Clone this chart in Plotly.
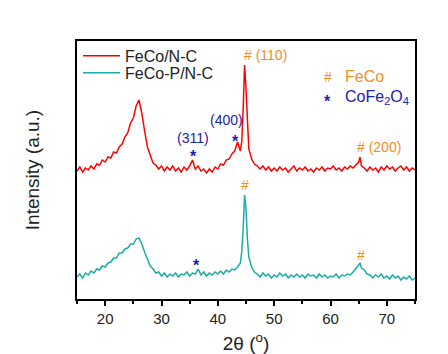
import plotly.graph_objects as go

# 2theta sampling (degrees)
two_theta = [15.0, 15.5, 16.0, 16.5, 17.0, 17.5, 18.0, 18.5, 19.0, 19.5,
             20.0, 20.5, 21.0, 21.5, 22.0, 22.5, 23.0, 23.5, 24.0, 24.5,
             25.0, 25.5, 26.0, 26.5, 27.0, 27.5, 28.0, 28.5, 29.0, 29.5,
             30.0, 30.5, 31.0, 31.5, 32.0, 32.5, 33.0, 33.5, 34.0, 34.5,
             35.0, 35.5, 36.0, 36.5, 37.0, 37.5, 38.0, 38.5, 39.0, 39.5,
             40.0, 40.5, 41.0, 41.5, 42.0, 42.5, 43.0, 43.5, 44.0, 44.25,
             44.5, 44.75, 45.0, 45.25, 45.5, 46.0, 46.5, 47.0, 47.5, 48.0,
             48.5, 49.0, 49.5, 50.0, 50.5, 51.0, 51.5, 52.0, 52.5, 53.0,
             53.5, 54.0, 54.5, 55.0, 55.5, 56.0, 56.5, 57.0, 57.5, 58.0,
             58.5, 59.0, 59.5, 60.0, 60.5, 61.0, 61.5, 62.0, 62.5, 63.0,
             63.5, 64.0, 64.5, 65.0, 65.25, 65.5, 66.0, 66.5, 67.0, 67.5,
             68.0, 68.5, 69.0, 69.5, 70.0, 70.5, 71.0, 71.5, 72.0, 72.5,
             73.0, 73.5, 74.0, 74.5, 75.0]

feco_nc = [128, 132, 127, 131, 129, 133, 130, 135, 134, 139,
           137, 142, 141, 147, 146, 152, 155, 162, 166, 176,
           181, 193, 199, 186, 168, 152, 144, 136, 134, 130,
           133, 128, 132, 129, 133, 128, 131, 127, 132, 129,
           133, 139, 130, 133, 128, 130, 126, 130, 127, 132,
           130, 135, 134, 139, 140, 145, 148, 157, 148, 158,
           190, 234, 210, 170, 150, 140, 135, 133, 130, 133,
           129, 132, 128, 131, 128, 132, 129, 131, 127, 130,
           133, 128, 131, 129, 132, 128, 130, 127, 131, 129,
           132, 128, 131, 130, 133, 129, 131, 128, 132, 130,
           133, 131, 134, 137, 142, 133, 131, 128, 132, 129,
           131, 127, 132, 129, 133, 130, 132, 128, 131, 133,
           129, 132, 128, 131, 129]

feco_p_nc = [22, 25, 21, 26, 24, 28, 26, 30, 29, 33,
             32, 36, 37, 41, 41, 46, 46, 50, 51, 55,
             55, 60, 61, 55, 47, 39, 33, 30, 26, 27,
             23, 26, 22, 25, 23, 26, 22, 25, 24, 27,
             23, 26, 25, 30, 24, 27, 23, 26, 24, 27,
             25, 28, 25, 29, 27, 30, 29, 32, 36, 48,
             70, 104, 90, 60, 42, 32, 27, 25, 22, 26,
             23, 25, 21, 24, 22, 26, 23, 25, 21, 24,
             22, 25, 22, 24, 21, 25, 23, 24, 21, 25,
             22, 24, 21, 23, 22, 25, 21, 24, 23, 25,
             24, 27, 30, 34, 36, 31, 29, 25, 24, 21,
             24, 22, 25, 21, 23, 20, 24, 21, 23, 19,
             22, 20, 23, 19, 21]

series_names = ["FeCo/N-C", "FeCo-P/N-C"]
series_colors = ["#FF0000", "#1AADA6"]
series_legends = ["legend", "legend2"]

FONT = "Arial, Liberation Sans, sans-serif"
TXT = "#222222"
ORANGE = "#F0901E"
BLUE = "#2020B0"
STAR = "<b>*</b>"

fig = go.Figure()
for name, ys, col, lg in zip(series_names, [feco_nc, feco_p_nc], series_colors, series_legends):
    fig.add_trace(go.Scatter(x=two_theta, y=ys, mode="lines", name=name, legend=lg,
                             line=dict(color=col, width=1.5)))

# peak labels: (text, x, y, color, size, anchor, yshift)
labels = [
    ("# (110)", 44.3, 244, ORANGE, 14, "left", 0),
    ("(400)", 41.6, 179, BLUE, 14, "center", 0),
    (STAR, 43.2, 162, BLUE, 16, "center", -4),
    ("(311)", 35.6, 161, BLUE, 14, "center", 0),
    (STAR, 35.6, 147, BLUE, 16, "center", -4),
    ("# (200)", 64.3, 152, ORANGE, 14, "left", 0),
    ("#", 44.8, 114, ORANGE, 14, "center", 0),
    (STAR, 36.3, 38, BLUE, 16, "center", -4),
    ("#", 65.4, 44, ORANGE, 14, "center", 0),
    ("#", 59.5, 222, ORANGE, 14, "center", 0),
    ("FeCo", 62.2, 223, ORANGE, 16, "left", 0),
    (STAR, 59.5, 202, BLUE, 16, "center", -4),
    ("CoFe<sub>2</sub>O<sub>4</sub>", 62.2, 202, BLUE, 16, "left", 0),
]
for t, x, y, c, s, anc, ys in labels:
    fig.add_annotation(x=x, y=y, text=t, showarrow=False, xanchor=anc,
                       yanchor="middle", yshift=ys,
                       font=dict(family=FONT, size=s, color=c))

leg_common = dict(xanchor="left", yanchor="top", bgcolor="rgba(0,0,0,0)",
                  font=dict(size=16, family=FONT, color=TXT), itemwidth=37)
fig.update_layout(
    width=448, height=354,
    margin=dict(l=77, r=33, t=41, b=55),
    paper_bgcolor="white", plot_bgcolor="white",
    font=dict(family=FONT, color=TXT),
    legend=dict(x=0.003, y=1.008, **leg_common),
    legend2=dict(x=0.003, y=0.942, **leg_common),
    showlegend=True,
)
fig.update_xaxes(range=[15, 75], tick0=0, dtick=10, ticks="outside", ticklen=5,
                 tickwidth=1.5, tickcolor="black", automargin=False,
                 minor=dict(dtick=5, ticks="outside", ticklen=3, tickwidth=1.5, tickcolor="black"),
                 showline=True, linecolor="black", linewidth=1.5, mirror=True,
                 showgrid=False, zeroline=False,
                 tickfont=dict(size=15, family=FONT, color=TXT),
                 title=dict(text="2θ (<sup>o</sup>)", font=dict(size=19, family=FONT, color=TXT), standoff=16))
fig.update_yaxes(range=[0, 258], showticklabels=False, ticks="", automargin=False,
                 showline=True, linecolor="black", linewidth=1.5, mirror=True,
                 showgrid=False, zeroline=False,
                 title=dict(text="Intensity (a.u.)", font=dict(size=19, family=FONT, color=TXT), standoff=31))

fig.write_html("out.html")
